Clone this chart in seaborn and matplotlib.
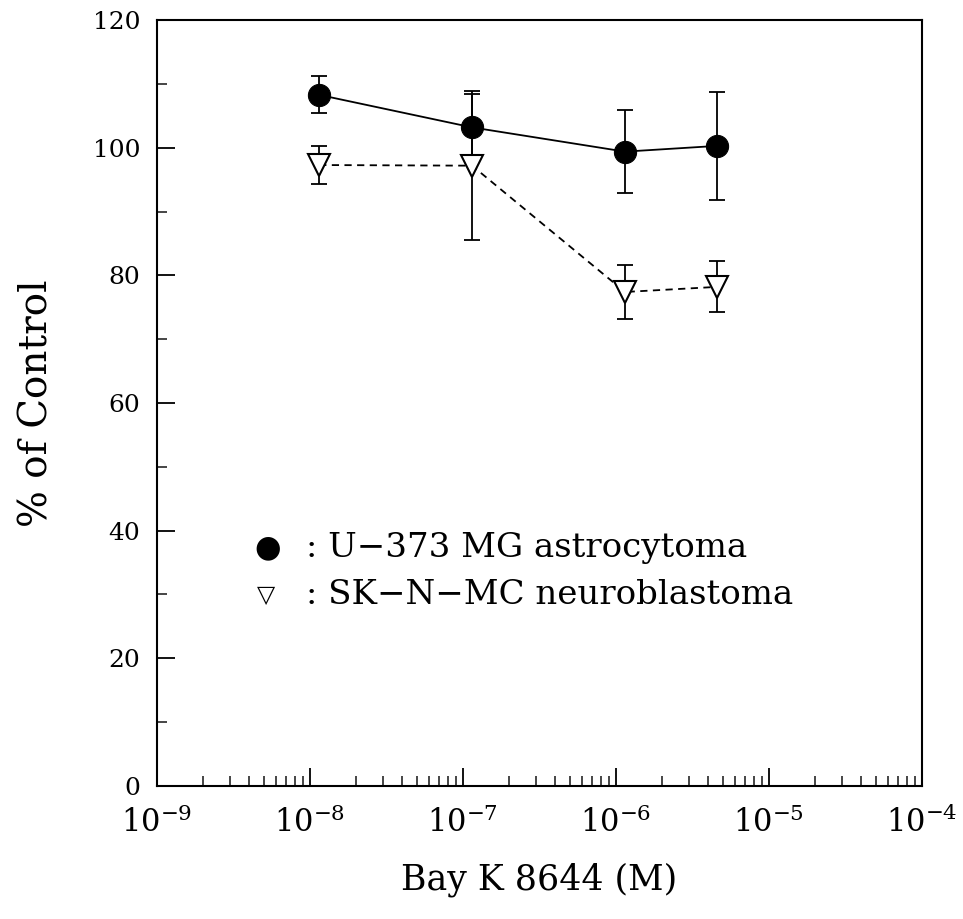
import numpy as np
import pandas as pd
import matplotlib
matplotlib.use("Agg")
import matplotlib.pyplot as plt
import seaborn as sns

sns.set_theme(style="white")
plt.rcParams['font.family'] = ['DejaVu Serif', 'DejaVu Sans']
plt.rcParams['mathtext.fontset'] = 'dejavuserif'

# Data
conc_u373 = [1.15e-8, 1.15e-7, 1.15e-6, 4.6e-6]
u373_mean = [108.3, 103.2, 99.4, 100.3]
u373_err = [2.9, 5.2, 6.5, 8.5]

conc_sknmc = [1.15e-8, 1.15e-7, 1.15e-6, 4.6e-6]
sknmc_mean = [97.3, 97.2, 77.4, 78.2]
sknmc_err = [3.0, 11.7, 4.3, 4.0]

xtick_vals = [1e-9, 1e-8, 1e-7, 1e-6, 1e-5, 1e-4]
ytick_vals = [0, 20, 40, 60, 80, 100, 120]

df1 = pd.DataFrame({"x": conc_u373, "y": u373_mean})
df2 = pd.DataFrame({"x": conc_sknmc, "y": sknmc_mean})

fig = plt.figure(figsize=(9.63, 9.19), dpi=100)
ax = fig.add_axes([0.163, 0.145, 0.794, 0.833])

# error bars
ax.errorbar(conc_u373, u373_mean, yerr=u373_err, fmt='none', ecolor='black',
            elinewidth=1.3, capsize=5.5, capthick=1.3, zorder=2)
ax.errorbar(conc_sknmc, sknmc_mean, yerr=sknmc_err, fmt='none', ecolor='black',
            elinewidth=1.3, capsize=5.5, capthick=1.3, zorder=2)

sns.lineplot(data=df1, x="x", y="y", ax=ax, color='black', linewidth=1.3,
             marker='o', markersize=16, markerfacecolor='black',
             markeredgecolor='black', zorder=4)
sns.lineplot(data=df2, x="x", y="y", ax=ax, color='black', linewidth=1.3,
             linestyle=(0, (4, 3)), marker='v', markersize=16,
             markerfacecolor='white', markeredgecolor='black',
             markeredgewidth=1.5, zorder=4)

ax.set_xscale('log')
ax.set_xlim(1e-9, 1e-4)
ax.set_ylim(0, 120)
ax.set_xticks(xtick_vals)
ax.set_xticklabels([r'$10^{%d}$' % int(np.log10(v)) for v in xtick_vals])
ax.xaxis.set_minor_locator(matplotlib.ticker.LogLocator(base=10, subs=np.arange(2, 10)))
ax.xaxis.set_minor_formatter(matplotlib.ticker.NullFormatter())
ax.set_yticks(ytick_vals)
ax.set_yticks(np.arange(10, 120, 20), minor=True)

ax.tick_params(axis='both', which='major', direction='in', length=13, width=1.3,
               colors='black', pad=10)
ax.tick_params(axis='y', which='major', labelsize=18, pad=12)
ax.tick_params(axis='x', which='major', labelsize=22, pad=15)
ax.tick_params(axis='both', which='minor', direction='in', length=7, width=1.2)
ax.tick_params(bottom=True, left=True, top=False, right=False, which='both')

for s in ax.spines.values():
    s.set_color('black')
    s.set_linewidth(1.5)

ax.set_xlabel('Bay K 8644 (M)', fontsize=25, labelpad=17, color='black')
ax.set_ylabel('% of Control', fontsize=28, labelpad=27, color='black')

# legend-like annotation
ax.text(0.145, 0.3105, '●', transform=ax.transAxes, fontsize=22, va='center', ha='center',
        color='black', family=['DejaVu Sans'])
ax.text(0.142, 0.249, '▽', transform=ax.transAxes, fontsize=17, va='center', ha='center',
        color='black', family=['DejaVu Sans'])
ax.text(0.195, 0.3105, ': U\u2212373 MG astrocytoma', transform=ax.transAxes,
        fontsize=24.5, va='center', ha='left', color='black')
ax.text(0.195, 0.249, ': SK\u2212N\u2212MC neuroblastoma', transform=ax.transAxes,
        fontsize=24.5, va='center', ha='left', color='black')

fig.savefig('out.png', dpi=100)
